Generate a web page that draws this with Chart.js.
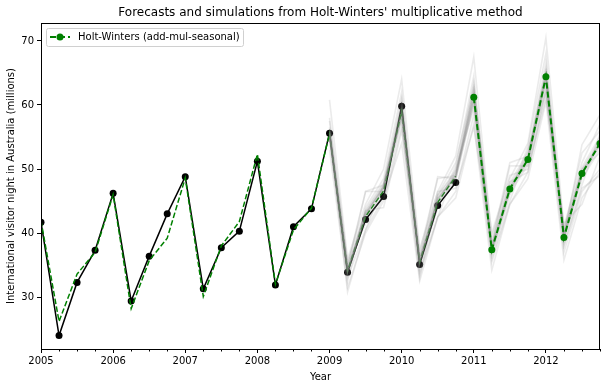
<!DOCTYPE html>
<html>
<head>
<meta charset="utf-8">
<script src="https://cdn.jsdelivr.net/npm/chart.js@4.4.1/dist/chart.umd.min.js"></script>
<style>
  html, body { margin: 0; padding: 0; background: #fff; }
  #wrap { width: 606px; height: 387px; }
</style>
</head>
<body>
<div id="wrap"><canvas id="hw-chart"></canvas></div>
<script>
// observed quarters 2005Q1 .. 2010Q4
var obsQuarters = [2005, 2005.25, 2005.5, 2005.75, 2006, 2006.25, 2006.5, 2006.75,
	2007, 2007.25, 2007.5, 2007.75, 2008, 2008.25, 2008.5, 2008.75,
	2009, 2009.25, 2009.5, 2009.75, 2010, 2010.25, 2010.5, 2010.75];
var visitors = [41.7, 24.0, 32.3, 37.3, 46.2, 29.4, 36.4, 43.0,
	48.8, 31.3, 37.7, 40.3, 51.2, 31.9, 41.0, 43.8,
	55.6, 33.9, 42.1, 45.7, 59.8, 35.1, 44.3, 47.9];
var fitted = [41.9, 26.2, 33.6, 37.0, 46.0, 28.2, 35.7, 39.2,
	48.6, 30.1, 38.0, 41.8, 52.3, 32.0, 40.5, 43.9,
	55.5, 34.1, 42.6, 46.6, 59.0, 35.5, 44.8, 48.9];

// forecasts 2011Q1 .. 2012Q4
var fcQuarters = [2011, 2011.25, 2011.5, 2011.75, 2012, 2012.25, 2012.5, 2012.75];
var forecast = [61.2, 37.4, 46.9, 51.5, 64.4, 39.3, 49.3, 54.0];

// simulated paths 2009Q1 .. 2012Q4
var simQuarters = [2009, 2009.25, 2009.5, 2009.75, 2010, 2010.25, 2010.5, 2010.75,
	2011, 2011.25, 2011.5, 2011.75, 2012, 2012.25, 2012.5, 2012.75];
var sims = [
	[55.6, 34.0, 43.0, 47.2, 58.9, 35.6, 45.3, 49.0, 61.2, 37.5, 47.0, 51.5, 64.4, 39.4, 49.4, 54.0],
	[55.9, 34.3, 43.4, 47.6, 59.4, 35.9, 45.8, 49.5, 61.8, 37.9, 47.5, 52.1, 65.0, 39.8, 49.9, 54.6],
	[55.3, 33.7, 42.6, 46.8, 58.4, 35.3, 44.9, 48.6, 60.7, 37.1, 46.6, 51.0, 63.9, 39.0, 48.9, 53.5],
	[56.2, 34.4, 43.1, 47.0, 59.6, 35.9, 45.1, 49.3, 61.9, 37.7, 47.3, 51.9, 65.1, 39.9, 49.8, 54.3],
	[55.0, 33.6, 42.8, 47.4, 58.3, 35.2, 45.5, 48.8, 60.5, 37.2, 46.8, 51.2, 63.7, 39.1, 49.2, 53.8],
	[55.7, 34.1, 43.6, 47.9, 59.8, 36.0, 45.9, 49.8, 62.3, 38.1, 47.9, 52.6, 65.6, 40.1, 50.3, 55.1],
	[55.5, 33.9, 42.4, 46.5, 58.0, 35.1, 44.6, 48.3, 60.2, 36.9, 46.2, 50.6, 63.3, 38.7, 48.5, 53.0],
	[56.0, 34.2, 43.2, 47.3, 59.1, 35.7, 45.4, 49.1, 61.4, 37.6, 47.1, 51.6, 64.6, 39.5, 49.5, 54.1],
	[55.2, 33.8, 42.9, 47.1, 58.7, 35.5, 45.2, 48.9, 61.0, 37.4, 46.9, 51.4, 64.2, 39.3, 49.3, 53.9],
	[57.5, 35.0, 46.5, 47.5, 61.0, 37.0, 48.5, 49.0, 63.5, 38.5, 51.0, 52.0, 66.5, 40.5, 52.5, 56.0],
	[53.0, 31.5, 40.0, 45.0, 56.5, 33.5, 42.5, 46.5, 58.5, 35.5, 44.5, 49.5, 62.0, 37.0, 46.5, 50.0],
	[60.8, 36.0, 44.5, 50.0, 64.0, 37.5, 46.5, 52.0, 67.5, 39.5, 48.5, 54.0, 70.5, 41.0, 51.0, 57.0],
	[55.6, 30.8, 40.5, 45.5, 54.0, 32.5, 42.5, 45.5, 57.0, 34.2, 44.5, 48.5, 60.5, 35.8, 45.5, 49.5],
	[56.5, 34.5, 46.5, 46.5, 60.5, 36.0, 48.8, 48.5, 62.5, 37.8, 50.5, 50.5, 65.0, 39.5, 53.8, 58.5],
	[54.5, 33.0, 40.5, 47.5, 58.0, 34.0, 42.5, 50.0, 59.5, 36.0, 45.0, 53.0, 62.0, 38.0, 47.5, 55.5],
	[58.0, 35.5, 43.5, 44.0, 56.0, 36.5, 46.5, 47.0, 56.5, 38.5, 48.0, 49.5, 62.5, 40.5, 50.0, 52.5],
	[55.0, 32.5, 44.0, 48.5, 62.0, 34.5, 44.0, 50.5, 64.5, 36.5, 46.0, 53.5, 68.0, 38.0, 47.0, 49.0],
	[56.0, 35.2, 41.5, 46.0, 57.5, 33.0, 46.0, 51.0, 63.0, 40.0, 49.0, 50.0, 61.0, 41.5, 44.5, 52.0]
];

var xTicks = [2005, 2006, 2007, 2008, 2009, 2010, 2011, 2012];
var yTicks = [30, 40, 50, 60, 70];

var FONT = "'DejaVu Sans', sans-serif";

function pts(xs, ys) {
	return xs.map(function(x, i) { return { x: x, y: ys[i] }; });
}

var datasets = [];
// forecast on top
datasets.push({
	label: "Holt-Winters (add-mul-seasonal)",
	data: pts(fcQuarters, forecast),
	borderColor: "#008000",
	backgroundColor: "#008000",
	borderWidth: 2,
	borderDash: [6, 3],
	pointRadius: 3.5,
	pointBorderWidth: 0,
	order: 0
});
sims.forEach(function(s, i) {
	datasets.push({
		label: "sim" + i,
		data: pts(simQuarters, s),
		borderColor: "rgba(128,128,128,0.16)",
		borderWidth: 1.6,
		pointRadius: 0,
		order: 1
	});
});
datasets.push({
	label: "fitted",
	data: pts(obsQuarters, fitted),
	borderColor: "#008000",
	borderWidth: 1.5,
	borderDash: [5.5, 2.4],
	pointRadius: 0,
	order: 2
});
datasets.push({
	label: "observed",
	data: pts(obsQuarters, visitors),
	borderColor: "#000",
	backgroundColor: "#000",
	borderWidth: 1.5,
	pointRadius: 3.5,
	pointBorderWidth: 0,
	order: 3
});

// box round the plot, quarter minor ticks and the legend inside
var extras = {
	id: "extras",
	afterDraw: function(chart) {
		var c = chart.ctx, a = chart.chartArea, xs = chart.scales.x;
		c.save();
		c.strokeStyle = "#000";
		c.lineWidth = 1;
		c.strokeRect(Math.round(a.left) + 0.5, Math.round(a.top) + 0.5,
			Math.round(a.right - a.left) - 1, Math.round(a.bottom - a.top));
		for (var q = xs.min; q <= xs.max + 1e-9; q += 0.25) {
			if (Math.abs(q - Math.round(q)) < 1e-6) continue;
			var px = Math.round(xs.getPixelForValue(q)) + 0.5;
			c.beginPath();
			c.moveTo(px, a.bottom);
			c.lineTo(px, a.bottom + 2.5);
			c.stroke();
		}
		// legend
		var lx = a.left + 5, ly = a.top + 5, lw = 197, lh = 18;
		c.fillStyle = "rgba(255,255,255,0.8)";
		c.strokeStyle = "#d0d0d0";
		c.beginPath();
		c.roundRect(lx + 0.5, ly + 0.5, lw, lh, 2);
		c.fill();
		c.stroke();
		var my = ly + 9;
		c.strokeStyle = "#008000";
		c.lineWidth = 2;
		c.setLineDash([6, 3]);
		c.beginPath();
		c.moveTo(lx + 4, my);
		c.lineTo(lx + 24, my);
		c.stroke();
		c.setLineDash([]);
		c.fillStyle = "#008000";
		c.beginPath();
		c.arc(lx + 14, my, 3.5, 0, Math.PI * 2);
		c.fill();
		c.fillStyle = "#000";
		c.font = "10px " + FONT;
		c.textBaseline = "middle";
		c.fillText(datasets[0].label, lx + 32, my);
		c.restore();
	}
};

new Chart(document.getElementById("hw-chart"), {
	type: "line",
	data: { datasets: datasets },
	options: {
		responsive: true,
		maintainAspectRatio: false,
		animation: false,
		events: [],
		layout: { padding: { right: 6 } },
		plugins: {
			legend: { display: false },
			tooltip: { enabled: false },
			title: {
				display: true,
				fullSize: false,
				text: "Forecasts and simulations from Holt-Winters' multiplicative method",
				color: "#000",
				font: { family: FONT, size: 12, weight: "normal" },
				padding: { top: 6, bottom: 2.6 }
			}
		},
		scales: {
			x: {
				type: "linear",
				min: 2005,
				max: 2012.75,
				afterBuildTicks: function(s) { s.ticks = xTicks.map(function(v) { return { value: v }; }); },
				afterFit: function(s) { s.height = 38; },
				grid: { drawOnChartArea: false, tickLength: 4, tickColor: "#000" },
				border: { display: false },
				ticks: {
					color: "#000",
					padding: 2,
					maxRotation: 0,
					font: { family: FONT, size: 10 },
					callback: function(v) { return String(v); }
				},
				title: { display: true, text: "Year", color: "#000", font: { family: FONT, size: 10 }, padding: { top: 0, bottom: 4 } }
			},
			y: {
				min: 21.9,
				max: 72.8,
				afterBuildTicks: function(s) { s.ticks = yTicks.map(function(v) { return { value: v }; }); },
				afterFit: function(s) { s.width = 41; },
				grid: { drawOnChartArea: false, tickLength: 4, tickColor: "#000" },
				border: { display: false },
				ticks: {
					color: "#000",
					padding: 3,
					font: { family: FONT, size: 10 },
					callback: function(v) { return String(v); }
				},
				title: { display: true, text: "International visitor night in Australia (millions)", color: "#000", font: { family: FONT, size: 10 }, padding: { top: 5, bottom: 0 } }
			}
		}
	},
	plugins: [extras]
});
</script>
</body>
</html>
